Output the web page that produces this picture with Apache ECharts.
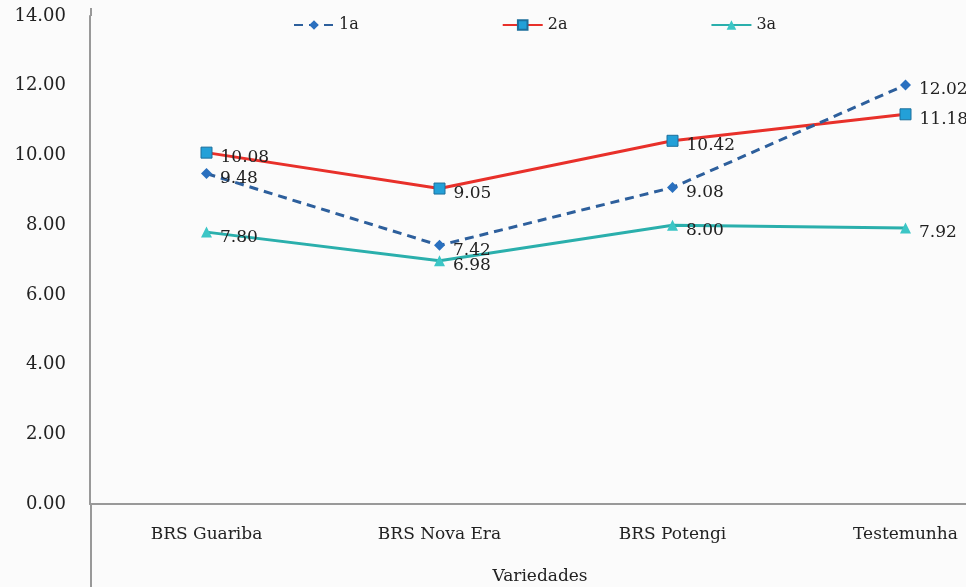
<!DOCTYPE html>
<html>
<head>
<meta charset="utf-8">
<script src="https://cdn.jsdelivr.net/npm/echarts@6/dist/echarts.min.js"></script>
<style>
  html, body { margin: 0; padding: 0; background: #fbfbfb; }
  #chart { width: 966px; height: 587px; }
</style>
</head>
<body>
<div id="chart"></div>
<script>
var categories = ['BRS Guariba', 'BRS Nova Era', 'BRS Potengi', 'Testemunha'];
var serie1a = [9.48, 7.42, 9.08, 12.02];
var serie2a = [10.08, 9.05, 10.42, 11.18];
var serie3a = [7.80, 6.98, 8.00, 7.92];

var fonte = 'DejaVu Serif';
var rotulo = {
  show: true,
  position: 'right',
  offset: [3, 5],
  color: '#222',
  fontFamily: fonte,
  fontSize: 17,
  formatter: function (p) { return p.value.toFixed(2); }
};

var myChart = echarts.init(document.getElementById('chart'));
var option = {
  backgroundColor: '#fbfbfb',
  animation: false,
  grid: { left: 90, width: 932, top: 16, bottom: 83, outerBoundsMode: 'none', containLabel: false },
  legend: {
    top: 12,
    left: 288,
    itemWidth: 40,
    itemHeight: 12,
    itemGap: 143,
    textStyle: { fontFamily: fonte, fontSize: 16, color: '#222' },
    data: ['1a', '2a', '3a']
  },
  xAxis: {
    type: 'category',
    data: categories,
    name: 'Variedades',
    nameLocation: 'middle',
    nameGap: 64,
    nameTextStyle: { fontFamily: fonte, fontSize: 17, color: '#222', padding: [0, 32, 0, 0] },
    axisLine: { lineStyle: { color: '#999', width: 2 } },
    axisTick: { show: false },
    axisLabel: { fontFamily: fonte, fontSize: 17, color: '#222', margin: 22 }
  },
  yAxis: {
    type: 'value',
    min: 0,
    max: 14,
    interval: 2,
    axisLine: { show: true, lineStyle: { color: '#999', width: 2 } },
    axisTick: { show: false },
    splitLine: { show: false },
    axisLabel: {
      fontFamily: fonte, fontSize: 18, color: '#222', margin: 24,
      formatter: function (v) { return v.toFixed(2); }
    }
  },
  graphic: [
    { type: 'line', shape: { x1: 91, y1: 503, x2: 91, y2: 587 }, style: { stroke: '#999', lineWidth: 2 } },
    { type: 'line', shape: { x1: 91, y1: 8, x2: 91, y2: 16 }, style: { stroke: '#999', lineWidth: 2 } }
  ],
  series: [
    {
      name: '1a',
      type: 'line',
      data: serie1a,
      symbol: 'diamond',
      symbolSize: 11,
      lineStyle: { color: '#2d5f9c', width: 3, type: [9, 6] },
      itemStyle: { color: '#2a70bf' },
      label: rotulo,
      z: 3
    },
    {
      name: '2a',
      type: 'line',
      data: serie2a,
      symbol: 'rect',
      symbolSize: 11,
      lineStyle: { color: '#e8302a', width: 3 },
      itemStyle: { color: '#23a0d8', borderColor: '#1c6f9c', borderWidth: 1 },
      label: rotulo,
      z: 2
    },
    {
      name: '3a',
      type: 'line',
      data: serie3a,
      symbol: 'triangle',
      symbolSize: 11,
      lineStyle: { color: '#2aafac', width: 3 },
      itemStyle: { color: '#3cc6c6' },
      label: rotulo,
      z: 1
    }
  ]
};
myChart.setOption(option);
</script>
</body>
</html>
